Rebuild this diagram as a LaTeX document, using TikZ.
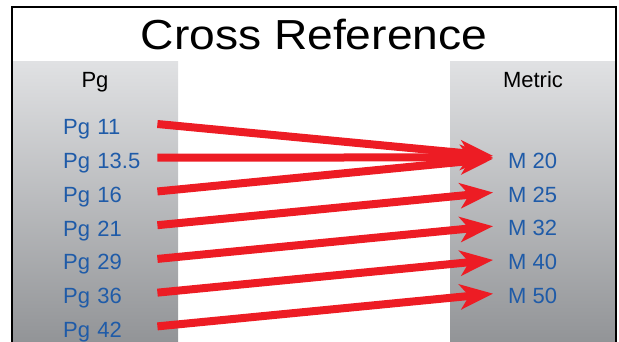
\documentclass[tikz,border=0pt]{standalone}
\usepackage{fontspec}
\setmainfont{Liberation Sans}
\usetikzlibrary{arrows.meta, positioning}
\definecolor{arrowred}{HTML}{ED1C24}
\definecolor{pgblue}{HTML}{1F5BA8}
\definecolor{coltop}{HTML}{E0E1E3}
\definecolor{colbot}{HTML}{929497}

\begin{document}
\begin{tikzpicture}[x=1pt, y=-1pt, node distance=11.33pt]
    \tikzstyle{column} = [top color=coltop, bottom color=colbot]
    \tikzstyle{head} = [font=\fontsize{22}{26}\selectfont, text=black, anchor=base, inner sep=0pt]
    \tikzstyle{pglabel} = [font=\fontsize{22}{26}\selectfont, text=pgblue, inner sep=0pt, text height=22pt, text depth=0pt, text width=94pt, align=left]
    \tikzstyle{mlabel} = [font=\fontsize{22}{26}\selectfont, text=pgblue, inner sep=0pt, text height=22pt, text depth=0pt]
    \tikzstyle{arrow} = [line width=8pt, draw=arrowred, -{Stealth[length=33pt, width=25pt, inset=9pt]}, shorten >=15pt]

    \useasboundingbox (0,0) rectangle (619,342);

    % the two columns and the frame
    \shade [column] (12,62) rectangle (178,342);
    \shade [column] (450,62) rectangle (616,342);
    \draw [line width=1.5pt] (12,342) -- (12,7) -- (616,7) -- (616,342);

    \node [head, font=\fontsize{42}{48}\selectfont, xscale=1.1] (title) at (314,50) {Cross Reference};
    \node [head] (pghead) at (95,88) {Pg};
    \node [head] (metrichead) at (533,88) {Metric};

    \node [pglabel, anchor=west] (pg11) at (63,124) {Pg 11};
    \node [pglabel, below=of pg11] (pg13) {Pg 13.5};
    \node [pglabel, below=of pg13] (pg16) {Pg 16};
    \node [pglabel, below=of pg16] (pg21) {Pg 21};
    \node [pglabel, below=of pg21] (pg29) {Pg 29};
    \node [pglabel, below=of pg29] (pg36) {Pg 36};
    \node [pglabel, below=of pg36] (pg42) {Pg 42};

    \node [mlabel, anchor=west] (m20) at (508,157.3) {M 20};
    \node [mlabel, below=of m20.south west, anchor=north west] (m25) {M 25};
    \node [mlabel, below=of m25.south west, anchor=north west] (m32) {M 32};
    \node [mlabel, below=of m32.south west, anchor=north west] (m40) {M 40};
    \node [mlabel, below=of m40.south west, anchor=north west] (m50) {M 50};

    \draw [arrow] (pg11.east) -- (m20.west);
    \draw [arrow] (pg13.east) -- (m20.west);
    \draw [arrow] (pg16.east) -- (m20.west);
    \draw [arrow] (pg21.east) -- (m25.west);
    \draw [arrow] (pg29.east) -- (m32.west);
    \draw [arrow] (pg36.east) -- (m40.west);
    \draw [arrow] (pg42.east) -- (m50.west);
\end{tikzpicture}
\end{document}
